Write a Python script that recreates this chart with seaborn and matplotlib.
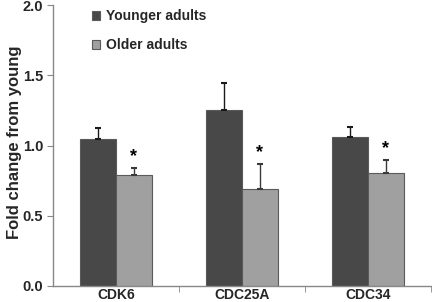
import matplotlib
matplotlib.use("Agg")
import matplotlib.pyplot as plt
import seaborn as sns
import pandas as pd
import numpy as np

genes = ["CDK6", "CDC25A", "CDC34"]
groups = ["Younger adults", "Older adults"]
young = [1.045, 1.25, 1.058]
older = [0.79, 0.688, 0.804]
young_err = [0.08, 0.197, 0.072]
older_err = [0.052, 0.178, 0.095]
yticks = [0.0, 0.5, 1.0, 1.5, 2.0]

sns.set_style("white")
plt.rcParams['font.family'] = ['Liberation Sans', 'DejaVu Sans']
plt.rcParams['font.weight'] = 'bold'

df = pd.DataFrame({
    "gene": genes * 2,
    "group": [groups[0]] * 3 + [groups[1]] * 3,
    "value": young + older,
})

fig = plt.figure(figsize=(4.32, 3.02), dpi=100)
ax = fig.add_axes([0.1227, 0.053, 0.875, 0.9304])

palette = {groups[0]: "#484848", groups[1]: "#a0a0a0"}
sns.barplot(data=df, x="gene", y="value", hue="group", order=genes,
            hue_order=groups, palette=palette, errorbar=None, width=0.57,
            edgecolor="#5a5a5a", linewidth=0.8, saturation=1, ax=ax)

errs = {groups[0]: young_err, groups[1]: older_err}
vals = {groups[0]: young, groups[1]: older}
for cont, g in zip(ax.containers, groups):
    for bar, v, e in zip(cont, vals[g], errs[g]):
        xc = bar.get_x() + bar.get_width() / 2
        col = "#1a1a1a" if g == groups[0] else "#3a3a3a"
        ax.errorbar(xc, v, yerr=[[0], [e]], fmt="none", ecolor=col,
                    elinewidth=1.0, capsize=2.5, capthick=1.5)
        if g == groups[1]:
            ax.text(xc, v + e + 0.02, "*", ha="center", va="bottom",
                    fontsize=13, fontweight="bold", color="black")

ax.set_xlim(-0.5, 2.5)
ax.set_ylim(0, 2.0)
ax.set_yticks(yticks)
ax.set_yticklabels([f"{t:.1f}" for t in yticks], fontsize=10.5, fontweight="bold")
ax.set_xticks(range(len(genes)))
ax.set_xticklabels(genes, fontsize=10, fontweight="bold")
ax.set_xticks([0.5, 1.5, 2.5], minor=True)
ax.tick_params(axis="x", which="major", length=0, pad=1.5)
ax.tick_params(axis="x", which="minor", length=4, color="#888888", direction="out", bottom=True)
ax.tick_params(axis="y", length=4, color="#888888", direction="out", left=True, pad=3)
ax.set_xlabel("")
ax.set_ylabel("Fold change from young", fontsize=12, fontweight="bold")
ax.yaxis.set_label_coords(-0.083, 0.51)

for s in ["top", "right"]:
    ax.spines[s].set_visible(False)
for s in ["left", "bottom"]:
    ax.spines[s].set_color("#888888")
    ax.spines[s].set_linewidth(1.0)

leg = ax.legend(loc="upper left", bbox_to_anchor=(0.07, 1.03), frameon=False,
                fontsize=10, handlelength=0.6, handleheight=0.6,
                handletextpad=0.4, labelspacing=1.1)
for t in leg.get_texts():
    t.set_fontweight("bold")

fig.savefig("out.png", dpi=100)
